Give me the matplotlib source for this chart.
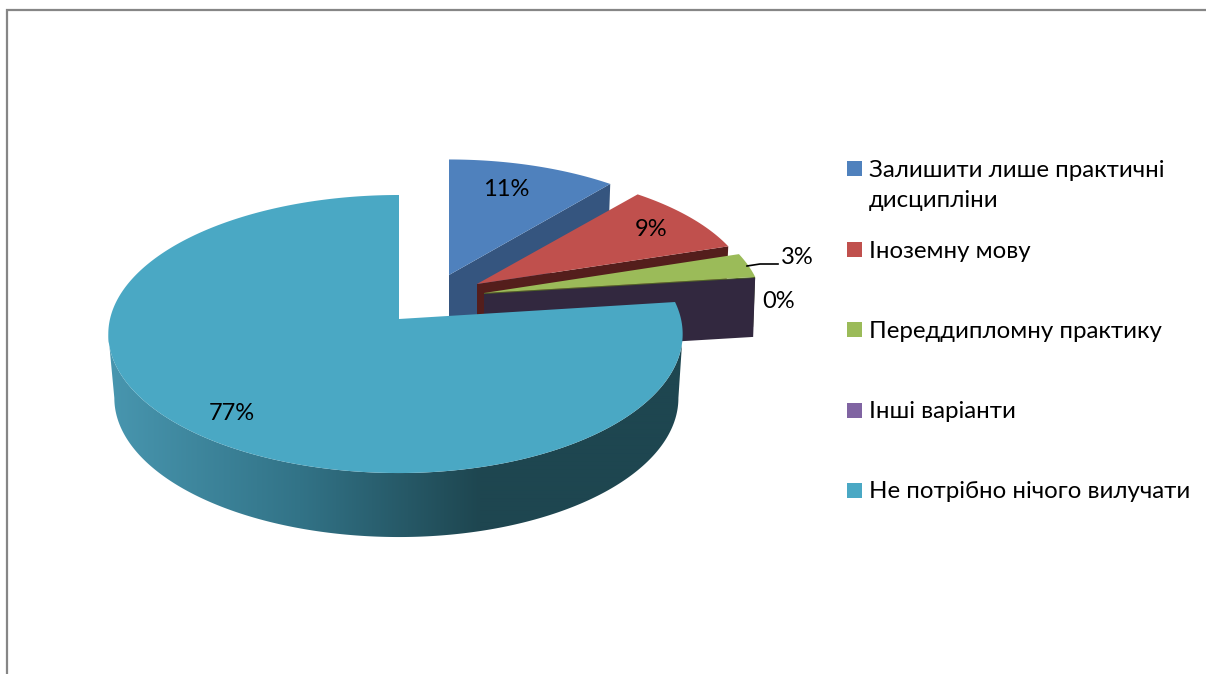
import numpy as np
import matplotlib
matplotlib.use("Agg")
import matplotlib.pyplot as plt
from matplotlib.patches import Polygon, Rectangle

plt.rcParams['font.family'] = ['Lato', 'Noto Sans', 'DejaVu Sans']

categories = ["Залишити лише практичні\nдисципліни", "Іноземну мову",
              "Переддипломну практику", "Інші варіанти",
              "Не потрібно нічого вилучати"]
values = [11, 9, 3, 0, 77]

top_colors = ["#4f81bd", "#c0504d", "#9bbb59", "#8064a2", "#4aa8c4"]
wall_colors = ["#35557f", "#541e1c", "#4f6228", "#32283f", "#1e4650"]
apexes = [(449, 275), (477, 284), (484, 293), (484, 294), (399, 319)]
radii = [(274, 128), (273, 126), (277, 130), (277, 130), (282, 137.4)]
heights = [56, 43, 50, 59, 64]
label_pos = [(506, 190), (651, 229), (797, 257), (779, 302), (232, 414)]
legend_y = [168, 249, 329, 410, 490]
legend_text_y = [185.5, 251, 331, 412, 492]
PERSP = 0.108

fig = plt.figure(figsize=(12.06, 6.74), dpi=100)
ax = fig.add_axes([0, 0, 1, 1])
ax.axis("off")


def rim(theta, apex, rad, left=None):
    s, c = np.sin(theta), np.cos(theta)
    d = 1 + PERSP * c
    rx = np.where(s < 0, left if left else rad[0], rad[0])
    return apex[0] + rx * s / d, apex[1] - rad[1] * c / d


frac = np.cumsum([0] + values) / sum(values) * 2 * np.pi
for i in range(len(values)):
    a0, a1 = frac[i], frac[i + 1]
    apex, rad, h = apexes[i], radii[i], heights[i]
    if i < 4:
        xe, ye = rim(np.array(a1), apex, rad)
        ax.add_patch(Polygon([apex, (xe, ye), (xe - 2, ye + h), (apex[0], apex[1] + h)],
                             closed=True, fc=wall_colors[i], ec="none", zorder=2 + i))
    if i == 4:
        t_right = np.arccos(-PERSP)
        th = np.linspace(t_right, 2 * np.pi - t_right, 400)
        xt, yt = rim(th, apex, rad, left=289)
        xb, yb = rim(th, apex, (rad[0] * 0.985, rad[1]), left=283)
        yb = yb + h
        outline = np.vstack([np.column_stack([xt, yt]),
                             np.column_stack([xb, yb])[::-1]])
        clip = Polygon(outline, closed=True, fc="none", ec="none", transform=ax.transData)
        ax.add_patch(clip)
        stops_x = [110, 300, 480, 700]
        stops = np.array([[72, 150, 175], [50, 115, 135], [30, 70, 80], [30, 70, 80]], float)
        gx = np.linspace(100, 700, 600)
        grad = np.stack([np.interp(gx, stops_x, stops[:, k]) for k in range(3)], axis=-1) / 255
        im = ax.imshow(grad[np.newaxis, :, :], extent=(100, 700, 550, 290), aspect="auto",
                       interpolation="bilinear", zorder=6)
        im.set_clip_path(clip)
    if a1 > a0:
        th = np.linspace(a0, a1, 300)
        x, y = rim(th, apex, rad, left=289 if i == 4 else None)
        pts = [apex] + list(zip(x, y))
        ax.add_patch(Polygon(pts, closed=True, fc=top_colors[i], ec="none",
                             zorder=2.5 + i if i < 4 else 7))

ax.set_xlim(0, 1206)
ax.set_ylim(674, 0)
ax.set_aspect("auto")

for v, (lx, ly) in zip(values, label_pos):
    ax.text(lx, ly, f"{v}%", ha="center", va="center", fontsize=17, color="black", zorder=10)
ax.plot([747, 760, 778], [266, 264, 264], color="black", lw=1.2, zorder=9)

for name, col, my, ty in zip(categories, top_colors, legend_y, legend_text_y):
    ax.add_patch(Rectangle((847, my - 7.5), 15, 15, fc=col, ec="none"))
    ax.text(869, ty, name, ha="left", va="center", fontsize=17.3, color="black",
            linespacing=1.5)

# picture frame
ax.plot([7, 7, 1206], [674, 10, 10], color="#868686", lw=1.6, solid_joinstyle="miter")

fig.savefig("out.png", dpi=100)
